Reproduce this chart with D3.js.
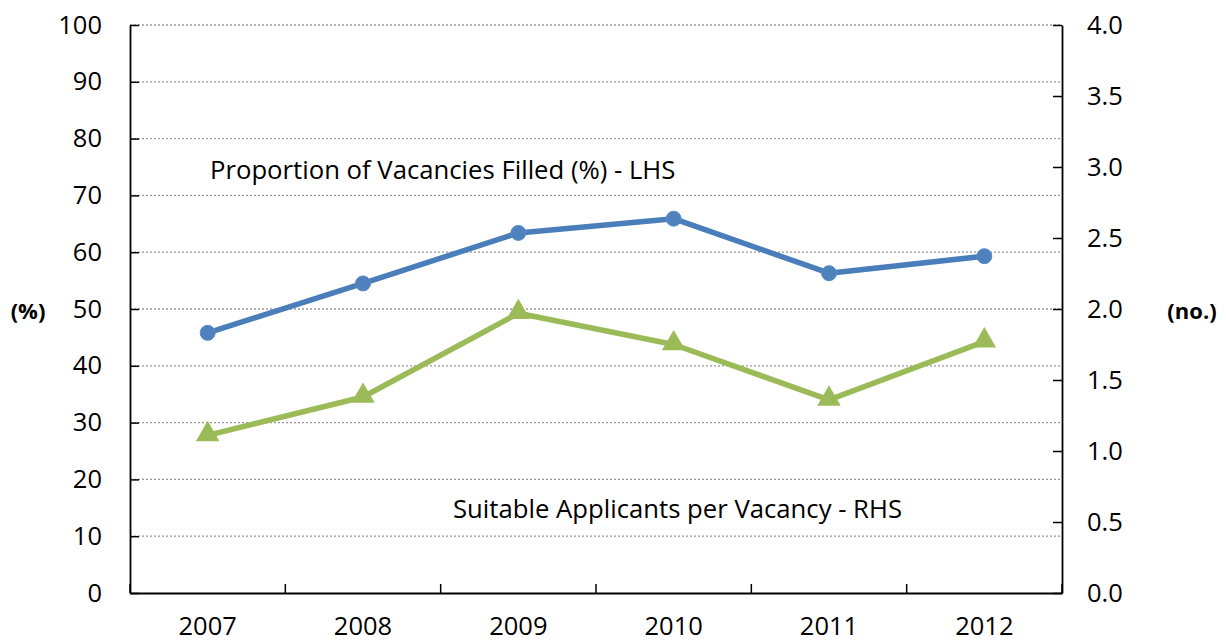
<!DOCTYPE html>
<html>
<head>
<meta charset="utf-8">
<script src="https://cdn.jsdelivr.net/npm/d3@7"></script>
<style>
  body { margin: 0; background: #fff; }
  text { font-family: "Open Sans", Lato, sans-serif; fill: #000; }
</style>
</head>
<body>
<div id="chart"></div>
<script>
// donnees
var years = ["2007", "2008", "2009", "2010", "2011", "2012"];
var filled = [45.8, 54.5, 63.4, 65.9, 56.3, 59.3];        // % - axe gauche
var applicants = [1.11, 1.38, 1.97, 1.75, 1.36, 1.77];    // no. - axe droit
var leftTicks = [0, 10, 20, 30, 40, 50, 60, 70, 80, 90, 100];
var rightTicks = [0, 0.5, 1, 1.5, 2, 2.5, 3, 3.5, 4];

var width = 1226, height = 642;
var plotLeft = 130, plotRight = 1062, plotTop = 25, plotBottom = 593;

var svg = d3.select("#chart").append("svg")
    .attr("width", width)
    .attr("height", height);

var x = d3.scaleBand().domain(years).range([plotLeft, plotRight]).padding(0);
var yL = d3.scaleLinear().domain([0, 100]).range([plotBottom, plotTop]);
var yR = d3.scaleLinear().domain([0, 4]).range([plotBottom, plotTop]);

// grille pointillée
svg.append("g").selectAll("line")
    .data(leftTicks.filter(function(d) { return d > 0; }))
    .enter().append("line")
    .attr("x1", plotLeft).attr("x2", plotRight)
    .attr("y1", function(d) { return yL(d); })
    .attr("y2", function(d) { return yL(d); })
    .attr("stroke", "#969696")
    .attr("stroke-width", 1.3)
    .attr("stroke-dasharray", "2,2");

// axe gauche
var axL = svg.append("g")
    .attr("transform", "translate(" + plotLeft + ",0)")
    .call(d3.axisLeft(yL).tickValues(leftTicks).tickSizeInner(-9).tickSizeOuter(0).tickPadding(28));
axL.selectAll("text").style("font-size", "25.5px");

// axe droit
var axR = svg.append("g")
    .attr("transform", "translate(" + plotRight + ",0)")
    .call(d3.axisRight(yR).tickValues(rightTicks).tickFormat(d3.format(".1f")).tickSizeInner(-9).tickSizeOuter(0).tickPadding(25));
axR.selectAll("text").style("font-size", "25.5px");

// axe du bas
var axB = svg.append("g")
    .attr("transform", "translate(0," + plotBottom + ")")
    .call(d3.axisBottom(x).tickSize(0).tickPadding(24));
axB.selectAll("text").style("font-size", "25.5px");

// petits traits entre les années
svg.append("g").selectAll("line")
    .data(d3.range(years.length + 1))
    .enter().append("line")
    .attr("x1", function(i) { return plotLeft + i * x.step(); })
    .attr("x2", function(i) { return plotLeft + i * x.step(); })
    .attr("y1", plotBottom).attr("y2", plotBottom - 9)
    .attr("stroke", "#000").attr("stroke-width", 1.5);

svg.selectAll(".domain").attr("stroke", "#000").attr("stroke-width", 1.8);
svg.selectAll(".tick line").attr("stroke", "#000").attr("stroke-width", 1.5);

var cx = function(d, i) { return x(years[i]) + x.bandwidth() / 2; };

// série verte - suitable applicants
svg.append("path")
    .datum(applicants)
    .attr("fill", "none")
    .attr("stroke", "#9BBB59")
    .attr("stroke-width", 5.5)
    .attr("stroke-linejoin", "round")
    .attr("d", d3.line().x(cx).y(function(d) { return yR(d); }));

svg.append("g").selectAll("path")
    .data(applicants)
    .enter().append("path")
    .attr("d", d3.symbol().type(d3.symbolTriangle).size(240))
    .attr("transform", function(d, i) { return "translate(" + cx(d, i) + "," + (yR(d) - 1) + ")"; })
    .attr("fill", "#9BBB59");

// série bleue - vacancies filled
svg.append("path")
    .datum(filled)
    .attr("fill", "none")
    .attr("stroke", "#4A7EBB")
    .attr("stroke-width", 5.5)
    .attr("stroke-linejoin", "round")
    .attr("d", d3.line().x(cx).y(function(d) { return yL(d); }));

svg.append("g").selectAll("circle")
    .data(filled)
    .enter().append("circle")
    .attr("cx", cx)
    .attr("cy", function(d) { return yL(d); })
    .attr("r", 7.5)
    .attr("fill", "#4F81BD")
    .attr("stroke", "#5B8CCB")
    .attr("stroke-width", 1);

// étiquettes
svg.append("text")
    .attr("x", 210).attr("y", 179)
    .style("font-size", "25.7px")
    .text("Proportion of Vacancies Filled (%) - LHS");

svg.append("text")
    .attr("x", 453).attr("y", 518)
    .style("font-size", "25.7px")
    .text("Suitable Applicants per Vacancy - RHS");

svg.append("text")
    .attr("x", 28).attr("y", 319)
    .attr("text-anchor", "middle")
    .style("font-size", "22px").style("font-weight", "bold")
    .text("(%)");

svg.append("text")
    .attr("x", 1192).attr("y", 319)
    .attr("text-anchor", "middle")
    .style("font-size", "22px").style("font-weight", "bold")
    .text("(no.)");
</script>
</body>
</html>
